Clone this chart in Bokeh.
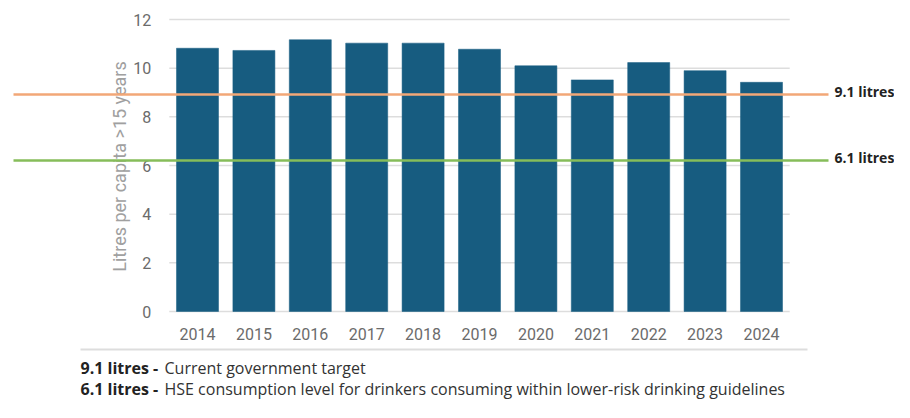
from bokeh.plotting import figure
from bokeh.models import Range1d
from bokeh.core.properties import value
from bokeh.embed import file_html
from bokeh.resources import INLINE

# ---- data ----
years = ["2014", "2015", "2016", "2017", "2018", "2019", "2020", "2021", "2022", "2023", "2024"]
litres = [10.82, 10.73, 11.17, 11.03, 11.03, 10.78, 10.10, 9.52, 10.23, 9.90, 9.42]
y_ticks = [0, 2, 4, 6, 8, 10, 12]
ref_values = [8.92, 6.21]
ref_labels = ["9.1 litres", "6.1 litres"]
ref_colors = ["#f2a777", "#86bd5a"]
note_bold = ["9.1 litres -", "6.1 litres -"]
note_text = ["Current government target",
             "HSE consumption level for drinkers consuming within lower-risk drinking guidelines"]
y_title = "Litres per capita >15 years"

# ---- layout helpers (picture px -> data units) ----
W, H = 894, 402
PPX, CX0 = 56.4, 197.0     # px per category, centre of first bar
PPY, CY0 = 24.33, 311.0    # px per litre, y=0 baseline

def sx(px):
    return (px - CX0) / PPX

def sy(py):
    return (CY0 - py) / PPY

p = figure(width=W, height=H, output_backend="svg", toolbar_location=None,
           x_axis_type=None, y_axis_type=None,
           x_range=Range1d(sx(0), sx(W)), y_range=Range1d(sy(H), sy(0)),
           min_border=0, outline_line_color=None)
p.grid.visible = False
p.background_fill_color = "white"
p.border_fill_color = "white"

idx = list(range(len(years)))
n = len(years)
x_lo, x_hi = -0.5, n - 0.5

# gridlines
p.segment(x0=[x_lo] * len(y_ticks), x1=[x_hi] * len(y_ticks), y0=y_ticks, y1=y_ticks,
          line_color="#dddddd", line_width=1.5)

# bars
p.vbar(x=idx, top=litres, width=0.745, bottom=0, fill_color="#175c80",
       line_color="#175c80", line_width=0.5)

# y tick labels
p.text(x=[x_lo] * len(y_ticks), y=y_ticks, text=[str(t) for t in y_ticks],
       x_offset=-18, text_align="right", text_baseline="middle",
       text_font=value("Roboto"), text_font_size="16px", text_color="#6b6b6b")

# x tick labels
p.text(x=idx, y=[sy(333)] * n, text=years, text_align="center", text_baseline="middle",
       text_font=value("Roboto"), text_font_size="16px", text_color="#6b6b6b")

# y axis title
p.text(x=[sx(119)], y=[sy(166)], text=[y_title], angle=1.5708, text_align="center",
       text_baseline="middle", text_font=value("Roboto"), text_font_size="18px",
       text_color="#a0a0a0")

# reference lines
for v, lab, c in zip(ref_values, ref_labels, ref_colors):
    p.line(x=[sx(13), sx(828)], y=[v, v], line_color=c, line_width=2.5)
    p.text(x=[sx(834)], y=[v + 3 / PPY], text=[lab], text_align="left", text_baseline="middle",
           text_font=value("Open Sans"), text_font_style="bold", text_font_size="14px",
           text_color="#222222")

# separator
p.line(x=[sx(80), sx(807)], y=[sy(349), sy(349)], line_color="#dddddd", line_width=2)

# footnotes
for i, (b, t) in enumerate(zip(note_bold, note_text)):
    yy = sy(367 + 21 * i)
    p.text(x=[sx(80)], y=[yy], text=[b], text_align="left", text_baseline="middle",
           text_font=value("Open Sans"), text_font_style="bold", text_font_size="16px",
           text_color="#222222")
    p.text(x=[sx(164)], y=[yy], text=[t], text_align="left", text_baseline="middle",
           text_font=value("Open Sans"), text_font_size="16px", text_color="#333333")

open("out.html", "w").write(file_html(p, INLINE))
